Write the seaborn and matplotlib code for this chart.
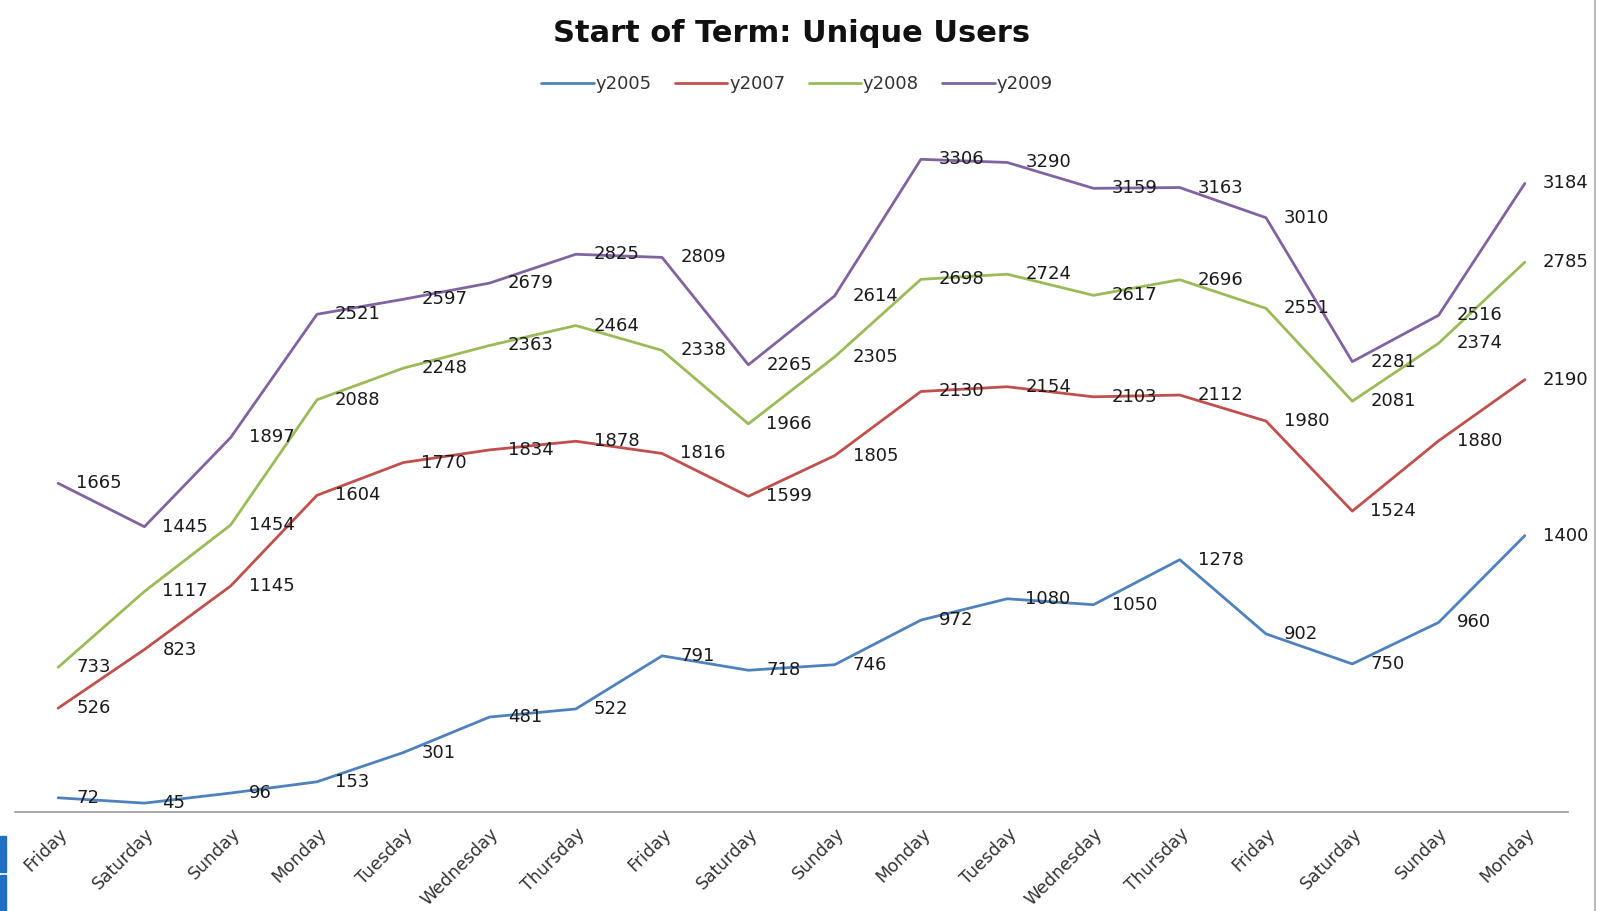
import matplotlib
matplotlib.use("Agg")
import matplotlib.pyplot as plt
import seaborn as sns
import pandas as pd

days = ["Friday", "Saturday", "Sunday", "Monday", "Tuesday", "Wednesday", "Thursday",
        "Friday", "Saturday", "Sunday", "Monday", "Tuesday", "Wednesday", "Thursday",
        "Friday", "Saturday", "Sunday", "Monday"]

y2005 = [72, 45, 96, 153, 301, 481, 522, 791, 718, 746, 972, 1080, 1050, 1278, 902, 750, 960, 1400]
y2007 = [526, 823, 1145, 1604, 1770, 1834, 1878, 1816, 1599, 1805, 2130, 2154, 2103, 2112, 1980, 1524, 1880, 2190]
y2008 = [733, 1117, 1454, 2088, 2248, 2363, 2464, 2338, 1966, 2305, 2698, 2724, 2617, 2696, 2551, 2081, 2374, 2785]
y2009 = [1665, 1445, 1897, 2521, 2597, 2679, 2825, 2809, 2265, 2614, 3306, 3290, 3159, 3163, 3010, 2281, 2516, 3184]

series = {"y2005": y2005, "y2007": y2007, "y2008": y2008, "y2009": y2009}
colors = {"y2005": "#4F81BD", "y2007": "#C0504D", "y2008": "#9BBB59", "y2009": "#8064A2"}

rows = []
for name, vals in series.items():
    for i, v in enumerate(vals):
        rows.append({"idx": i, "users": v, "year": name})
df = pd.DataFrame(rows)

sns.set_style("white")
plt.rcParams["font.family"] = ["DejaVu Sans"]

W, H = 1602, 911
fig = plt.figure(figsize=(W / 100, H / 100), dpi=100)
ax = fig.add_axes([15 / W, (H - 812) / H, 1553 / W, 691 / H])

sns.lineplot(data=df, x="idx", y="users", hue="year", palette=colors, linewidth=2.0, ax=ax)

# data labels to the right of each point
for name, vals in series.items():
    for i, v in enumerate(vals):
        ax.annotate(str(v), (i, v), xytext=(13, 0), textcoords="offset points",
                    ha="left", va="center", fontsize=13, color="#1a1a1a")

ax.set_xlim(-0.5, len(days) - 0.5)
ax.set_ylim(0, 3500)
ax.set_xticks(range(len(days)))
ax.set_xticklabels(days, rotation=45, ha="right", rotation_mode="anchor",
                   fontsize=12.5, color="#333333")
ax.tick_params(axis="x", length=0, pad=9)
ax.set_yticks([])
ax.set_xlabel("")
ax.set_ylabel("")
for s in ["top", "left", "right"]:
    ax.spines[s].set_visible(False)
ax.spines["bottom"].set_color("#999999")
ax.spines["bottom"].set_linewidth(1.2)

leg = ax.legend(loc="center", ncol=4, frameon=False, fontsize=13, handlelength=2.9,
                handletextpad=0.1, columnspacing=1.3, borderaxespad=0)
leg.set_bbox_to_anchor((797 / W, 1 - 84 / H), transform=fig.transFigure)
for t in leg.get_texts():
    t.set_color("#333333")

fig.text(792 / W, 1 - 34 / H, "Start of Term: Unique Users", ha="center", va="center",
         fontsize=22, fontweight="bold", color="#111111")

# chart border on the right and leftover window bits on the left
fig.add_artist(plt.Line2D([1595 / W, 1595 / W], [0, 1], transform=fig.transFigure,
                          color="#aaaaaa", linewidth=1.2))
fig.add_artist(plt.Rectangle((0, 1 - 872 / H), 6 / W, 36 / H, transform=fig.transFigure,
                             color="#1f6fc0"))
fig.add_artist(plt.Rectangle((0, 1 - 911 / H), 6 / W, 36 / H, transform=fig.transFigure,
                             color="#1f6fc0"))

fig.savefig("out.png", dpi=100)
